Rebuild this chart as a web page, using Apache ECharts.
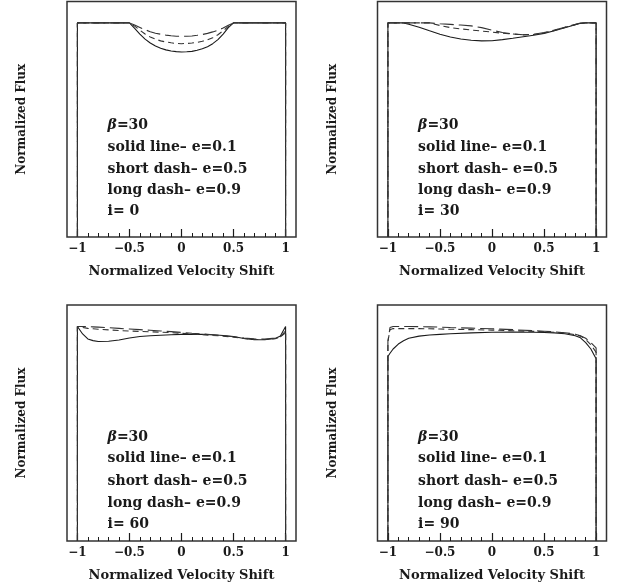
<!DOCTYPE html>
<html><head><meta charset="utf-8">
<script src="https://cdn.jsdelivr.net/npm/echarts@6/dist/echarts.min.js"></script>
<style>html,body{margin:0;padding:0;background:#fff}#c{width:627px;height:585px}</style>
</head><body><div id="c"></div>
<script>
// ---- data ----
const majorTicks = [-1, -0.5, 0, 0.5, 1];
const minorTicks = [-0.9,-0.8,-0.7,-0.6,-0.4,-0.3,-0.2,-0.1,0.1,0.2,0.3,0.4,0.6,0.7,0.8,0.9];
const legendLines = ['solid line\u2013 e=0.1', 'short dash\u2013 e=0.5', 'long dash\u2013 e=0.9'];
const inclinations = ['0', '30', '60', '90'];

// panel 1 (i=0)
const vel1 = [-1,-0.5,-0.45,-0.4,-0.35,-0.3,-0.25,-0.2,-0.15,-0.1,-0.05,0,0.05,0.1,0.15,0.2,0.25,0.3,0.35,0.4,0.45,0.5,1];
const solid1 = [1,1,0.975,0.948,0.924,0.906,0.892,0.882,0.874,0.869,0.866,0.864,0.865,0.867,0.872,0.879,0.889,0.903,0.922,0.948,0.978,1,1];
const short1 = [1,1,0.985,0.966,0.948,0.934,0.924,0.916,0.911,0.907,0.904,0.903,0.904,0.906,0.909,0.914,0.921,0.931,0.945,0.963,0.984,1,1];
const long1  = [1,1,0.99,0.979,0.968,0.959,0.952,0.947,0.943,0.94,0.938,0.937,0.938,0.939,0.942,0.946,0.951,0.958,0.966,0.976,0.989,1,1];

// panel 2 (i=30)
const vel2 = [-1,-0.9,-0.85,-0.8,-0.7,-0.6,-0.5,-0.4,-0.3,-0.2,-0.1,0,0.1,0.2,0.3,0.4,0.5,0.6,0.7,0.8,0.85,0.9,1];
const solid2 = [1,1,1,0.994,0.98,0.963,0.947,0.934,0.925,0.919,0.916,0.917,0.922,0.928,0.935,0.942,0.951,0.963,0.977,0.991,0.998,1,1];
const short2 = [1,1,1,1,1,1,0.988,0.978,0.972,0.967,0.962,0.957,0.952,0.948,0.944,0.946,0.953,0.965,0.979,0.992,0.998,1,1];
const long2  = [1,1,1,1,1,1,0.996,0.993,0.99,0.986,0.978,0.966,0.955,0.948,0.945,0.947,0.955,0.967,0.98,0.993,0.999,1,1];

// panel 3 (i=60)
const vel3 = [-1,-0.95,-0.9,-0.85,-0.8,-0.7,-0.6,-0.5,-0.4,-0.3,-0.2,-0.1,0,0.1,0.2,0.3,0.4,0.5,0.6,0.7,0.8,0.9,0.95,1];
const solid3 = [1,0.965,0.942,0.934,0.93,0.931,0.937,0.946,0.953,0.957,0.959,0.961,0.963,0.964,0.963,0.961,0.958,0.953,0.944,0.938,0.938,0.944,0.955,1];
const short3 = [1,0.995,0.991,0.989,0.987,0.984,0.981,0.979,0.977,0.975,0.973,0.971,0.968,0.965,0.962,0.958,0.955,0.95,0.944,0.939,0.939,0.943,0.95,0.98];
const long3  = [1,1,0.999,0.998,0.997,0.994,0.991,0.988,0.985,0.982,0.979,0.976,0.972,0.968,0.965,0.961,0.957,0.952,0.946,0.942,0.941,0.946,0.952,0.97];

// panel 4 (i=90)
const vel4 = [-1,-0.98,-0.95,-0.9,-0.85,-0.8,-0.7,-0.6,-0.5,-0.4,-0.2,0,0.2,0.4,0.5,0.6,0.7,0.8,0.85,0.9,0.95,1];
const solid4 = [0.86,0.875,0.895,0.918,0.933,0.945,0.955,0.96,0.963,0.966,0.97,0.973,0.974,0.973,0.972,0.97,0.966,0.957,0.947,0.925,0.895,0.85];
const short4 = [0.93,0.985,0.99,0.99,0.99,0.99,0.99,0.989,0.988,0.987,0.985,0.983,0.98,0.977,0.975,0.973,0.969,0.962,0.955,0.94,0.915,0.88];
const long4  = [0.93,0.995,1,1,1,1,0.999,0.998,0.997,0.995,0.992,0.989,0.985,0.98,0.978,0.975,0.971,0.964,0.957,0.945,0.925,0.9];

const panels = [
  {vel: vel1, solid: solid1, short: short1, long: long1},
  {vel: vel2, solid: solid2, short: short2, long: long2},
  {vel: vel3, solid: solid3, short: short3, long: long3},
  {vel: vel4, solid: solid4, short: short4, long: long4}
];

// ---- layout / style ----
const FONT = 'DejaVu Serif';
const INK = '#1a1a1a';
const gridBoxes = [
  {left: 67, top: 1.5, width: 229, height: 235.5},
  {left: 377.5, top: 1.5, width: 229, height: 235.5},
  {left: 67, top: 305, width: 229, height: 236},
  {left: 377.5, top: 305, width: 229, height: 236}
];
const textX = -0.71;
const textYTop = [0.523, 0.42, 0.316, 0.219, 0.118];
const textYBot = [0.485, 0.383, 0.28, 0.177, 0.079];

const chart = echarts.init(document.getElementById('c'), null, {renderer: 'canvas'});

const grid = [], xAxis = [], yAxis = [], series = [];
panels.forEach((p, i) => {
  grid.push(Object.assign({show: true, borderColor: '#333', borderWidth: 1.5, backgroundColor: 'transparent'}, gridBoxes[i]));
  xAxis.push({
    gridIndex: i, type: 'value', min: -1.1, max: 1.1, position: 'bottom',
    axisLine: {show: false}, splitLine: {show: false},
    axisTick: {inside: true, length: 8, customValues: majorTicks, lineStyle: {color: INK, width: 1.2}},
    axisLabel: {customValues: majorTicks, margin: 6, color: INK, fontFamily: FONT, fontWeight: 'bold', fontSize: 12,
      formatter: v => (v < 0 ? '\u2212' + Math.abs(v) : String(v))},
    name: 'Normalized Velocity Shift', nameLocation: 'middle', nameGap: 28,
    nameTextStyle: {color: INK, fontFamily: FONT, fontWeight: 'bold', fontSize: 13}
  });
  xAxis.push({
    gridIndex: i, type: 'value', min: -1.1, max: 1.1, position: 'bottom',
    axisLine: {show: false}, splitLine: {show: false}, axisLabel: {show: false},
    axisTick: {inside: true, length: 4, customValues: minorTicks, lineStyle: {color: INK, width: 1}}
  });
  yAxis.push({
    gridIndex: i, type: 'value', min: 0, max: 1.1,
    axisLine: {show: false}, splitLine: {show: false}, axisTick: {show: false}, axisLabel: {show: false},
    name: 'Normalized Flux', nameLocation: 'middle', nameGap: 39,
    nameTextStyle: {color: INK, fontFamily: FONT, fontWeight: 'bold', fontSize: 12}
  });
  const mk = (arr) => [[-1, 0]].concat(p.vel.map((v, k) => [v, arr[k]])).concat([[1, 0]]);
  const base = {type: 'line', xAxisIndex: 2 * i, yAxisIndex: i, showSymbol: false, silent: true, animation: false};
  series.push(Object.assign({}, base, {data: mk(p.solid), lineStyle: {color: INK, width: 1.1}}));
  series.push(Object.assign({}, base, {data: mk(p.short), lineStyle: {color: '#333', width: 1.1, type: [6, 4]}}));
  series.push(Object.assign({}, base, {data: mk(p.long), lineStyle: {color: '#333', width: 1.1, type: [14, 5]}}));
});

chart.setOption({animation: false, backgroundColor: '#fff', grid, xAxis, yAxis, series});

// legend text inside each panel, anchored in data coordinates
const graphic = [];
panels.forEach((p, i) => {
  const ys = i < 2 ? textYTop : textYBot;
  const lines = ['{b|\u03b2}=30', legendLines[0], legendLines[1], legendLines[2], 'i= ' + inclinations[i]];
  lines.forEach((ln, k) => {
    const pt = chart.convertToPixel({xAxisIndex: 2 * i, yAxisIndex: i}, [textX, ys[k]]);
    graphic.push({
      type: 'text', x: pt[0], y: pt[1], silent: true,
      style: {text: ln, fill: INK, font: 'bold 14px "' + FONT + '"', verticalAlign: 'middle', align: 'left',
        rich: {b: {fontStyle: 'italic', fontWeight: 'bold', fontFamily: FONT, fontSize: 14, fill: INK}}}
    });
  });
});
chart.setOption({graphic});
</script></body></html>
